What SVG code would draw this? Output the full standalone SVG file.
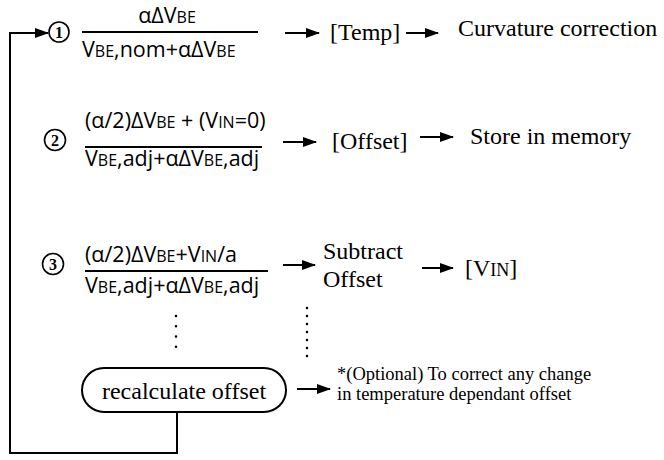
<svg xmlns="http://www.w3.org/2000/svg" width="664" height="460" viewBox="0 0 664 460">
  <defs>
    <marker id="head" markerWidth="14" markerHeight="10" refX="13" refY="5" orient="auto" markerUnits="userSpaceOnUse">
      <path d="M0,0 L14,5 L0,10 Z" fill="#000"/>
    </marker>
  </defs>
  <style>
    .line { stroke: #000; stroke-width: 2; fill: none; }
    .arrow { stroke: #000; stroke-width: 2; fill: none; marker-end: url(#head); }
    .dots { stroke: #000; stroke-width: 2.6; stroke-linecap: round; fill: none; }
    .num { stroke: #000; stroke-width: 1.6; fill: #fff; }
    .math { font-family: "Open Sans", "Noto Sans", sans-serif; font-size: 21.5px; fill: #000; }
    .sc { font-size: 16px; }
    .serif { font-family: "Liberation Serif", "Times New Roman", serif; font-size: 24px; fill: #000; }
    .note { font-family: "Liberation Serif", "Times New Roman", serif; font-size: 18.5px; fill: #000; }
    .digit { font-family: "Liberation Serif", serif; font-size: 16px; font-weight: bold; fill: #000; text-anchor: middle; }
  </style>

  <!-- connectors -->
  <g id="connectors">
    <!-- feedback loop from the recalculation step back to step 1 -->
    <path class="arrow" d="M177,412 V453 H10 V33 H48"/>
    <line class="arrow" x1="285" y1="33" x2="319" y2="33"/>
    <line class="arrow" x1="406" y1="33" x2="438" y2="33"/>
    <line class="arrow" x1="283" y1="142" x2="316" y2="142"/>
    <line class="arrow" x1="420" y1="137" x2="453" y2="137"/>
    <line class="arrow" x1="283" y1="265" x2="315" y2="265"/>
    <line class="arrow" x1="422" y1="268" x2="453" y2="268"/>
    <line class="arrow" x1="297" y1="389" x2="330" y2="389"/>
    <line class="dots" x1="176" y1="316" x2="176" y2="357" stroke-dasharray="0 10.25"/>
    <line class="dots" x1="307" y1="308" x2="307" y2="364" stroke-dasharray="0 8"/>
  </g>

  <!-- step 1: temperature -->
  <g id="step1">
    <circle class="num" cx="59" cy="32" r="10"/>
    <text class="digit" x="59" y="37.5">1</text>
    <text class="math" x="167" y="23" text-anchor="middle">αΔV<tspan class="sc">BE</tspan></text>
    <line class="line" x1="82" y1="32" x2="258" y2="32"/>
    <text class="math" x="82" y="57">V<tspan class="sc">BE</tspan>,nom+αΔV<tspan class="sc">BE</tspan></text>
  </g>
  <g id="temp"><text class="serif" x="330" y="40">[Temp]</text></g>
  <g id="curvature"><text class="serif" x="458" y="36">Curvature correction</text></g>

  <!-- step 2: offset -->
  <g id="step2">
    <circle class="num" cx="55" cy="140" r="10.5"/>
    <text class="digit" x="55" y="145.5">2</text>
    <text class="math" x="85" y="128">(α/2)ΔV<tspan class="sc">BE</tspan> + (V<tspan class="sc">IN</tspan>=0)</text>
    <line class="line" x1="85" y1="147" x2="262" y2="147"/>
    <text class="math" x="85" y="166">V<tspan class="sc">BE</tspan>,adj+αΔV<tspan class="sc">BE</tspan>,adj</text>
  </g>
  <g id="offset"><text class="serif" x="332" y="149">[Offset]</text></g>
  <g id="memory"><text class="serif" x="470" y="144">Store in memory</text></g>

  <!-- step 3: input -->
  <g id="step3">
    <circle class="num" cx="53" cy="264" r="10.5"/>
    <text class="digit" x="53" y="269.5">3</text>
    <text class="math" x="85" y="262">(α/2)ΔV<tspan class="sc">BE</tspan>+V<tspan class="sc">IN</tspan>/a</text>
    <line class="line" x1="85" y1="271" x2="268" y2="271"/>
    <text class="math" x="85" y="293">V<tspan class="sc">BE</tspan>,adj+αΔV<tspan class="sc">BE</tspan>,adj</text>
  </g>
  <g id="subtract">
    <text class="serif" x="323" y="259">Subtract</text>
    <text class="serif" x="323" y="287">Offset</text>
  </g>
  <g id="vin"><text class="serif" x="465" y="276">[V<tspan font-size="18">IN</tspan>]</text></g>

  <!-- recalculation -->
  <g id="recalculate">
    <rect class="line" x="82" y="368" width="204" height="44" rx="22" ry="22"/>
    <text class="serif" x="184" y="399" text-anchor="middle">recalculate offset</text>
  </g>
  <g id="optional">
    <text class="note" x="337" y="380">*(Optional) To correct any change</text>
    <text class="note" x="337" y="400">in temperature dependant offset</text>
  </g>
</svg>
